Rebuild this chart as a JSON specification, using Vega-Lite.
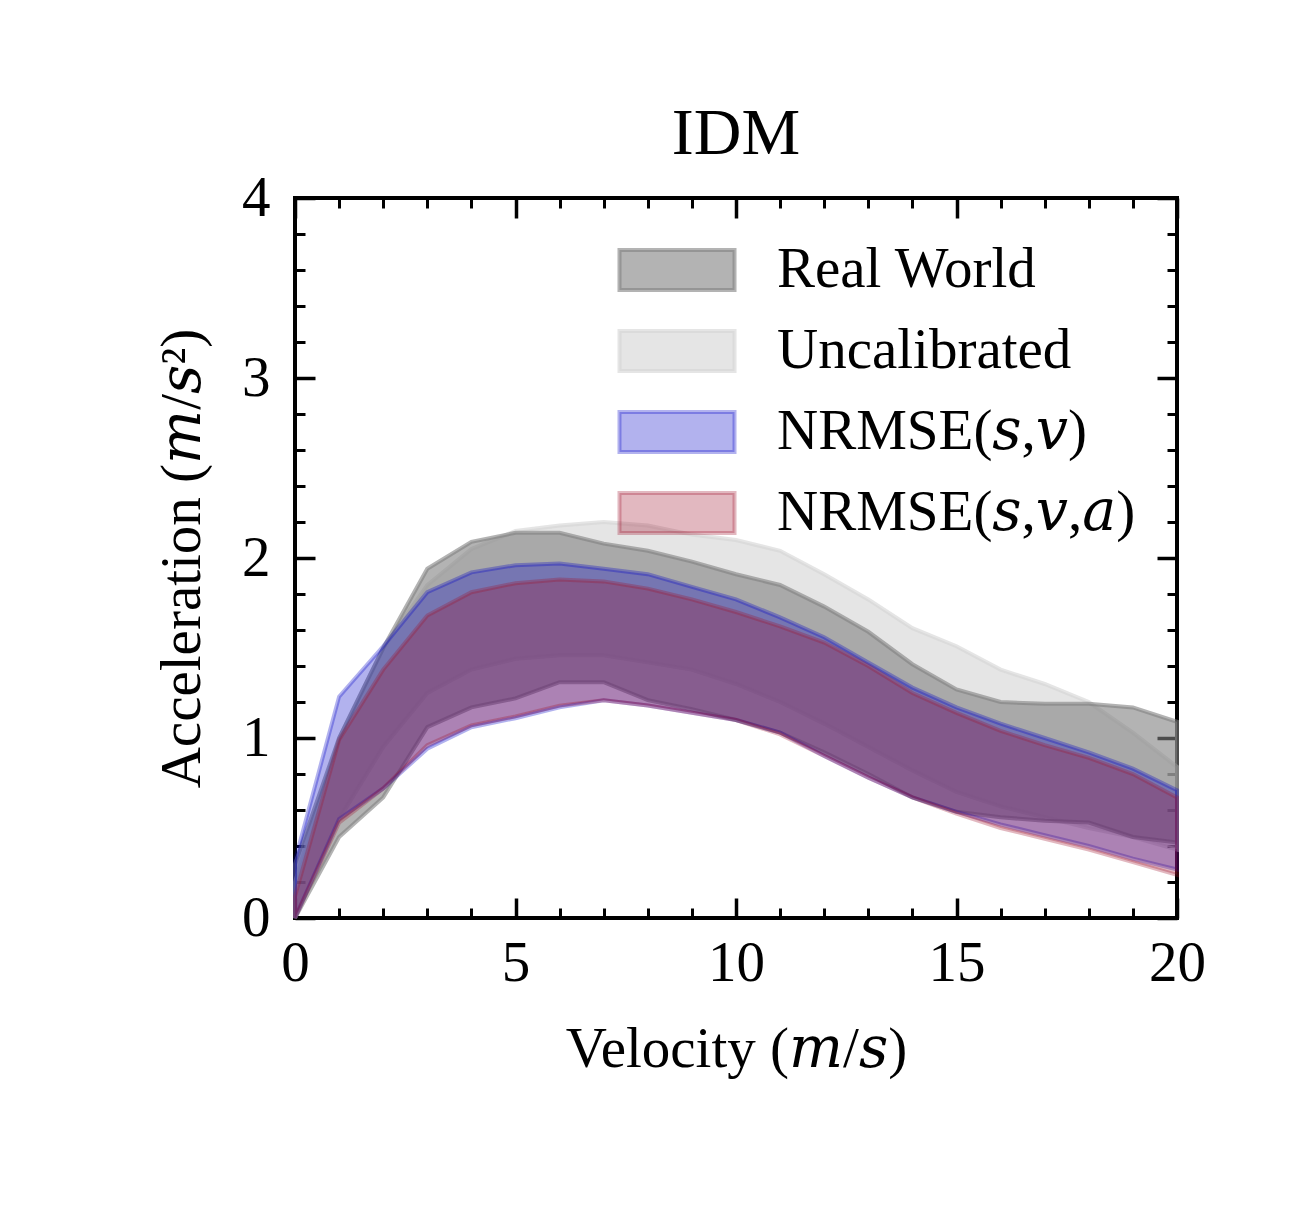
{
  "$schema": "https://vega.github.io/schema/vega-lite/v6.json",
  "width": 882,
  "height": 720,
  "autosize": {"type": "none"},
  "padding": {"left": 295, "top": 198, "right": 124, "bottom": 291},
  "background": "white",
  "title": {"text": "IDM", "font": "Liberation Serif", "fontSize": 66, "fontWeight": "normal", "color": "black", "frame": "group", "anchor": "middle", "offset": 1},
  "datasets": {
    "bands": [
      {"series": "Real World", "v": 0, "lo": 0.0, "hi": 0.3},
      {"series": "Real World", "v": 1, "lo": 0.45, "hi": 1.0},
      {"series": "Real World", "v": 2, "lo": 0.67, "hi": 1.5},
      {"series": "Real World", "v": 3, "lo": 1.06, "hi": 1.94},
      {"series": "Real World", "v": 4, "lo": 1.17, "hi": 2.09},
      {"series": "Real World", "v": 5, "lo": 1.22, "hi": 2.14},
      {"series": "Real World", "v": 6, "lo": 1.31, "hi": 2.14},
      {"series": "Real World", "v": 7, "lo": 1.31, "hi": 2.08},
      {"series": "Real World", "v": 8, "lo": 1.21, "hi": 2.04},
      {"series": "Real World", "v": 9, "lo": 1.16, "hi": 1.98},
      {"series": "Real World", "v": 10, "lo": 1.1, "hi": 1.91},
      {"series": "Real World", "v": 11, "lo": 1.03, "hi": 1.85},
      {"series": "Real World", "v": 12, "lo": 0.92, "hi": 1.73},
      {"series": "Real World", "v": 13, "lo": 0.8, "hi": 1.59},
      {"series": "Real World", "v": 14, "lo": 0.67, "hi": 1.41},
      {"series": "Real World", "v": 15, "lo": 0.59, "hi": 1.27},
      {"series": "Real World", "v": 16, "lo": 0.56, "hi": 1.2},
      {"series": "Real World", "v": 17, "lo": 0.54, "hi": 1.19},
      {"series": "Real World", "v": 18, "lo": 0.53, "hi": 1.19},
      {"series": "Real World", "v": 19, "lo": 0.45, "hi": 1.17},
      {"series": "Real World", "v": 20, "lo": 0.42, "hi": 1.09},
      {"series": "Uncalibrated", "v": 0, "lo": 0.0, "hi": 0.2},
      {"series": "Uncalibrated", "v": 1, "lo": 0.55, "hi": 1.0},
      {"series": "Uncalibrated", "v": 2, "lo": 0.95, "hi": 1.5},
      {"series": "Uncalibrated", "v": 3, "lo": 1.25, "hi": 1.85},
      {"series": "Uncalibrated", "v": 4, "lo": 1.38, "hi": 2.05},
      {"series": "Uncalibrated", "v": 5, "lo": 1.44, "hi": 2.15},
      {"series": "Uncalibrated", "v": 6, "lo": 1.46, "hi": 2.18},
      {"series": "Uncalibrated", "v": 7, "lo": 1.46, "hi": 2.2},
      {"series": "Uncalibrated", "v": 8, "lo": 1.42, "hi": 2.18},
      {"series": "Uncalibrated", "v": 9, "lo": 1.38, "hi": 2.13},
      {"series": "Uncalibrated", "v": 10, "lo": 1.3, "hi": 2.1},
      {"series": "Uncalibrated", "v": 11, "lo": 1.2, "hi": 2.04},
      {"series": "Uncalibrated", "v": 12, "lo": 1.08, "hi": 1.91},
      {"series": "Uncalibrated", "v": 13, "lo": 0.95, "hi": 1.77},
      {"series": "Uncalibrated", "v": 14, "lo": 0.82, "hi": 1.61},
      {"series": "Uncalibrated", "v": 15, "lo": 0.7, "hi": 1.51},
      {"series": "Uncalibrated", "v": 16, "lo": 0.62, "hi": 1.38},
      {"series": "Uncalibrated", "v": 17, "lo": 0.56, "hi": 1.3},
      {"series": "Uncalibrated", "v": 18, "lo": 0.5, "hi": 1.2},
      {"series": "Uncalibrated", "v": 19, "lo": 0.45, "hi": 1.03},
      {"series": "Uncalibrated", "v": 20, "lo": 0.38, "hi": 0.84},
      {"series": "NRMSE(𝑠,𝑣)", "v": 0, "lo": 0.0, "hi": 0.32},
      {"series": "NRMSE(𝑠,𝑣)", "v": 1, "lo": 0.55, "hi": 1.23},
      {"series": "NRMSE(𝑠,𝑣)", "v": 2, "lo": 0.72, "hi": 1.51},
      {"series": "NRMSE(𝑠,𝑣)", "v": 3, "lo": 0.94, "hi": 1.81},
      {"series": "NRMSE(𝑠,𝑣)", "v": 4, "lo": 1.06, "hi": 1.92},
      {"series": "NRMSE(𝑠,𝑣)", "v": 5, "lo": 1.11, "hi": 1.96},
      {"series": "NRMSE(𝑠,𝑣)", "v": 6, "lo": 1.17, "hi": 1.97},
      {"series": "NRMSE(𝑠,𝑣)", "v": 7, "lo": 1.21, "hi": 1.94},
      {"series": "NRMSE(𝑠,𝑣)", "v": 8, "lo": 1.18, "hi": 1.91},
      {"series": "NRMSE(𝑠,𝑣)", "v": 9, "lo": 1.14, "hi": 1.84},
      {"series": "NRMSE(𝑠,𝑣)", "v": 10, "lo": 1.1, "hi": 1.77},
      {"series": "NRMSE(𝑠,𝑣)", "v": 11, "lo": 1.03, "hi": 1.67},
      {"series": "NRMSE(𝑠,𝑣)", "v": 12, "lo": 0.9, "hi": 1.56},
      {"series": "NRMSE(𝑠,𝑣)", "v": 13, "lo": 0.78, "hi": 1.42},
      {"series": "NRMSE(𝑠,𝑣)", "v": 14, "lo": 0.67, "hi": 1.28},
      {"series": "NRMSE(𝑠,𝑣)", "v": 15, "lo": 0.59, "hi": 1.17},
      {"series": "NRMSE(𝑠,𝑣)", "v": 16, "lo": 0.52, "hi": 1.08},
      {"series": "NRMSE(𝑠,𝑣)", "v": 17, "lo": 0.46, "hi": 1.0},
      {"series": "NRMSE(𝑠,𝑣)", "v": 18, "lo": 0.4, "hi": 0.92},
      {"series": "NRMSE(𝑠,𝑣)", "v": 19, "lo": 0.33, "hi": 0.83},
      {"series": "NRMSE(𝑠,𝑣)", "v": 20, "lo": 0.27, "hi": 0.71},
      {"series": "NRMSE(𝑠,𝑣,𝑎)", "v": 0, "lo": 0.0, "hi": 0.12},
      {"series": "NRMSE(𝑠,𝑣,𝑎)", "v": 1, "lo": 0.53, "hi": 0.99},
      {"series": "NRMSE(𝑠,𝑣,𝑎)", "v": 2, "lo": 0.72, "hi": 1.38},
      {"series": "NRMSE(𝑠,𝑣,𝑎)", "v": 3, "lo": 0.96, "hi": 1.68},
      {"series": "NRMSE(𝑠,𝑣,𝑎)", "v": 4, "lo": 1.07, "hi": 1.81},
      {"series": "NRMSE(𝑠,𝑣,𝑎)", "v": 5, "lo": 1.12, "hi": 1.86},
      {"series": "NRMSE(𝑠,𝑣,𝑎)", "v": 6, "lo": 1.18, "hi": 1.88},
      {"series": "NRMSE(𝑠,𝑣,𝑎)", "v": 7, "lo": 1.21, "hi": 1.87},
      {"series": "NRMSE(𝑠,𝑣,𝑎)", "v": 8, "lo": 1.18, "hi": 1.83},
      {"series": "NRMSE(𝑠,𝑣,𝑎)", "v": 9, "lo": 1.14, "hi": 1.77},
      {"series": "NRMSE(𝑠,𝑣,𝑎)", "v": 10, "lo": 1.1, "hi": 1.7},
      {"series": "NRMSE(𝑠,𝑣,𝑎)", "v": 11, "lo": 1.02, "hi": 1.62},
      {"series": "NRMSE(𝑠,𝑣,𝑎)", "v": 12, "lo": 0.9, "hi": 1.53},
      {"series": "NRMSE(𝑠,𝑣,𝑎)", "v": 13, "lo": 0.78, "hi": 1.4},
      {"series": "NRMSE(𝑠,𝑣,𝑎)", "v": 14, "lo": 0.67, "hi": 1.25},
      {"series": "NRMSE(𝑠,𝑣,𝑎)", "v": 15, "lo": 0.58, "hi": 1.14},
      {"series": "NRMSE(𝑠,𝑣,𝑎)", "v": 16, "lo": 0.5, "hi": 1.04},
      {"series": "NRMSE(𝑠,𝑣,𝑎)", "v": 17, "lo": 0.44, "hi": 0.96},
      {"series": "NRMSE(𝑠,𝑣,𝑎)", "v": 18, "lo": 0.38, "hi": 0.89},
      {"series": "NRMSE(𝑠,𝑣,𝑎)", "v": 19, "lo": 0.31, "hi": 0.8},
      {"series": "NRMSE(𝑠,𝑣,𝑎)", "v": 20, "lo": 0.24, "hi": 0.67}
    ]
  },
  "data": {"name": "bands"},
  "layer": [
    {
      "encoding": {
        "x": {
          "field": "v", "type": "quantitative",
          "scale": {"domain": [0, 20], "nice": false, "zero": false},
          "axis": {
            "orient": "bottom",
            "values": [0,1,2,3,4,5,6,7,8,9,10,11,12,13,14,15,16,17,18,19,20],
            "tickSize": -20,
            "tickWidth": {"condition": {"test": "datum.value % 5 === 0", "value": 3.5}, "value": 3},
            "tickDash": {"condition": {"test": "datum.value % 5 === 0", "value": [1000, 0]}, "value": [10, 40]},
            "tickColor": "black",
            "domain": false, "grid": false,
            "labelExpr": "datum.value % 5 === 0 ? format(datum.value, 'd') : ''",
            "labelFont": "Liberation Serif", "labelFontSize": 57, "labelColor": "black",
            "labelPadding": 37, "labelFlush": false, "labelOverlap": false,
            "title": "Velocity (𝑚/𝑠)",
            "titleFont": "Liberation Serif, DejaVu Serif", "titleFontSize": 57, "titleFontWeight": "normal", "titleColor": "black",
            "titlePadding": 30
          }
        },
        "y": {
          "field": "lo", "type": "quantitative",
          "scale": {"domain": [0, 4], "nice": false, "zero": false},
          "axis": {
            "orient": "left",
            "values": [0,0.2,0.4,0.6,0.8,1,1.2,1.4,1.6,1.8,2,2.2,2.4,2.6,2.8,3,3.2,3.4,3.6,3.8,4],
            "tickSize": -20,
            "tickWidth": {"condition": {"test": "abs(datum.value - round(datum.value)) < 0.001", "value": 3.5}, "value": 3},
            "tickDash": {"condition": {"test": "abs(datum.value - round(datum.value)) < 0.001", "value": [1000, 0]}, "value": [10, 40]},
            "tickColor": "black",
            "domain": false, "grid": false,
            "labelExpr": "abs(datum.value - round(datum.value)) < 0.001 ? format(datum.value, 'd') : ''",
            "labelFont": "Liberation Serif", "labelFontSize": 57, "labelColor": "black",
            "labelPadding": 45, "labelFlush": false, "labelOverlap": false,
            "title": "Acceleration (𝑚/𝑠²)",
            "titleFont": "Liberation Serif, DejaVu Serif", "titleFontSize": 57, "titleFontWeight": "normal", "titleColor": "black",
            "titlePadding": 30
          }
        },
        "y2": {"field": "hi"},
        "fill": {
          "field": "series", "type": "nominal",
          "scale": {
            "domain": ["Real World", "Uncalibrated", "NRMSE(𝑠,𝑣)", "NRMSE(𝑠,𝑣,𝑎)"],
            "range": ["rgba(128,128,128,0.6)", "rgba(211,211,211,0.6)", "rgba(0,0,200,0.3)", "rgba(160,20,46,0.3)"]
          },
          "legend": {
            "title": null, "orient": "none", "legendX": 350, "legendY": 40,
            "symbolType": "M-1.917,-0.667H1.917V0.667H-1.917Z", "symbolSize": 3600, "symbolStrokeWidth": 4,
            "labelFont": "Liberation Serif, DejaVu Serif", "labelFontSize": 57, "labelColor": "black",
            "labelOffset": 68, "rowPadding": 20, "labelLimit": 1000, "labelBaseline": "middle", "padding": 0
          }
        },
        "stroke": {
          "field": "series", "type": "nominal",
          "scale": {
            "domain": ["Real World", "Uncalibrated", "NRMSE(𝑠,𝑣)", "NRMSE(𝑠,𝑣,𝑎)"],
            "range": ["rgba(128,128,128,0.6)", "rgba(211,211,211,0.6)", "rgba(0,0,200,0.3)", "rgba(160,20,46,0.3)"]
          },
          "legend": {
            "title": null, "orient": "none", "legendX": 350, "legendY": 40,
            "symbolType": "M-1.917,-0.667H1.917V0.667H-1.917Z", "symbolSize": 3600, "symbolStrokeWidth": 4,
            "labelFont": "Liberation Serif, DejaVu Serif", "labelFontSize": 57, "labelColor": "black",
            "labelOffset": 68, "rowPadding": 20, "labelLimit": 1000, "labelBaseline": "middle", "padding": 0
          }
        }
      },
      "layer": [
        {"transform": [{"filter": "datum.series === 'Uncalibrated'"}], "mark": {"type": "area", "strokeWidth": 4}},
        {"transform": [{"filter": "datum.series === 'Real World'"}], "mark": {"type": "area", "strokeWidth": 4}},
        {"transform": [{"filter": "datum.series === 'NRMSE(𝑠,𝑣)'"}], "mark": {"type": "area", "strokeWidth": 4}},
        {"transform": [{"filter": "datum.series === 'NRMSE(𝑠,𝑣,𝑎)'"}], "mark": {"type": "area", "strokeWidth": 4}}
      ]
    },
    {
      "mark": {"type": "point", "opacity": 0},
      "encoding": {
        "x": {
          "field": "v", "type": "quantitative",
          "axis": {
            "orient": "top",
            "values": [0,1,2,3,4,5,6,7,8,9,10,11,12,13,14,15,16,17,18,19,20],
            "tickSize": -20,
            "tickWidth": {"condition": {"test": "datum.value % 5 === 0", "value": 3.5}, "value": 3},
            "tickDash": {"condition": {"test": "datum.value % 5 === 0", "value": [1000, 0]}, "value": [10, 40]},
            "tickColor": "black",
            "domain": false, "grid": false, "labels": false, "title": null
          }
        },
        "y": {
          "field": "hi", "type": "quantitative",
          "axis": {
            "orient": "right",
            "values": [0,0.2,0.4,0.6,0.8,1,1.2,1.4,1.6,1.8,2,2.2,2.4,2.6,2.8,3,3.2,3.4,3.6,3.8,4],
            "tickSize": -20,
            "tickWidth": {"condition": {"test": "abs(datum.value - round(datum.value)) < 0.001", "value": 3.5}, "value": 3},
            "tickDash": {"condition": {"test": "abs(datum.value - round(datum.value)) < 0.001", "value": [1000, 0]}, "value": [10, 40]},
            "tickColor": "black",
            "domain": false, "grid": false, "labels": false, "title": null
          }
        }
      }
    }
  ],
  "resolve": {"axis": {"x": "independent", "y": "independent"}},
  "config": {
    "view": {"stroke": "black", "strokeWidth": 4},
    "font": "Liberation Serif"
  }
}
